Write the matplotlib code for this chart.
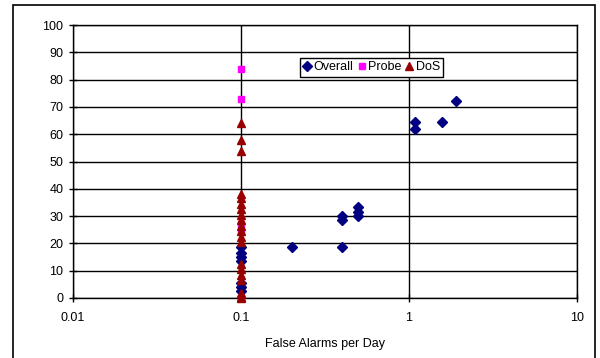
import matplotlib
matplotlib.use("Agg")
import matplotlib.pyplot as plt
from matplotlib.patches import Rectangle

plt.rcParams['font.family'] = ['Liberation Sans', 'DejaVu Sans']

overall_x = [0.1, 0.1, 0.1, 0.1, 0.1, 0.1, 0.1, 0.2, 0.4, 0.4, 0.4, 0.5, 0.5, 0.5, 1.08, 1.08, 1.58, 1.9]
overall_y = [18.5, 16.5, 15, 13.5, 5.5, 4, 2.5, 18.6, 18.6, 28.5, 30, 30, 31.5, 33.3, 61.8, 64.3, 64.3, 72.3]

probe_x = [0.1, 0.1, 0.1, 0.1, 0.1]
probe_y = [84, 73, 27, 24.5, 0]

dos_x = [0.1] * 20
dos_y = [64, 58, 54, 38, 36.5, 34.5, 32.5, 30.5, 28.5, 26.5, 24.5, 22.5, 20.5,
         12.5, 10.5, 8.5, 6.5, 2, 0.5, 0]

xticks = [0.01, 0.1, 1, 10]
xticklabels = ["0.01", "0.1", "1", "10"]
yticks = list(range(0, 101, 10))

fig = plt.figure(figsize=(6.0, 3.58), dpi=100)
ax = fig.add_axes([73/600, 1-298/358, (577-73)/600, (298-25)/358])

ax.plot(overall_x, overall_y, linestyle='none', marker='D', markersize=5,
        color='#000080', markeredgecolor='#000080', label='Overall', zorder=3, clip_on=False)
ax.plot(probe_x, probe_y, linestyle='none', marker='s', markersize=5,
        color='#FF00FF', markeredgecolor='#FF00FF', label='Probe', zorder=3, clip_on=False)
ax.plot(dos_x, dos_y, linestyle='none', marker='^', markersize=6,
        color='#990000', markeredgecolor='#990000', label='DoS', zorder=3, clip_on=False)

ax.set_xscale('log')
ax.set_xlim(0.01, 10)
ax.set_ylim(0, 100)
ax.set_xticks(xticks)
ax.set_xticklabels(xticklabels)
ax.set_yticks(yticks)
ax.minorticks_off()
ax.tick_params(axis='both', direction='inout', length=6, width=1, labelsize=9,
               colors='black')
ax.tick_params(axis='x', pad=7)
ax.tick_params(axis='y', pad=4)
ax.grid(True, color='black', linewidth=1.0)
ax.set_axisbelow(True)
for s in ax.spines.values():
    s.set_color('black')
    s.set_linewidth(1.0)
ax.set_xlabel('False Alarms per Day', fontsize=9, labelpad=10)

leg = ax.legend(loc='center', bbox_to_anchor=(371.5/600, 1-67.5/358),
                bbox_transform=fig.transFigure, ncol=3, fontsize=9,
                handlelength=0.7, handletextpad=0.15, columnspacing=0.3,
                borderpad=0.25, frameon=True, fancybox=False, framealpha=1,
                edgecolor='black', borderaxespad=0, markerscale=1.0)
leg.get_frame().set_linewidth(1.0)

fig.patches.append(Rectangle((13/600, -0.05), (595-13)/600, 1.05-5/358,
                             transform=fig.transFigure, fill=False,
                             edgecolor='black', linewidth=1.2))

fig.savefig('out.png', dpi=100)
